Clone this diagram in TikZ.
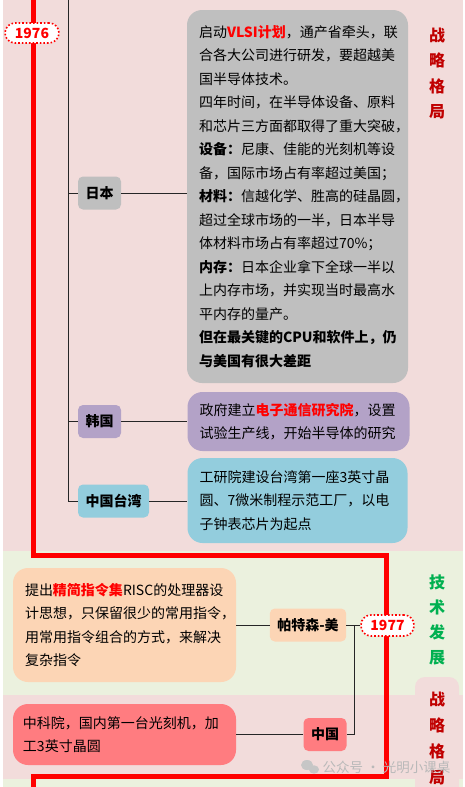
\documentclass[tikz,border=0pt]{standalone}
\usepackage{fontspec}
\setmainfont{Noto Sans CJK SC}
\definecolor{pinkbg}{HTML}{F2DCDB}
\definecolor{greenbg}{HTML}{EBF1DE}
\definecolor{graybox}{HTML}{BFBFBF}
\definecolor{purplebox}{HTML}{B3A2C7}
\definecolor{bluebox}{HTML}{93CDDD}
\definecolor{peachbox}{HTML}{FCD5B5}
\definecolor{salmonbox}{HTML}{FF7C80}
\definecolor{darkred}{HTML}{C00000}
\definecolor{techgreen}{HTML}{00B050}
\definecolor{hot}{HTML}{FF0000}
\newcommand{\hl}[1]{\textbf{\textcolor{hot}{#1}}}
\tikzset{
  redline/.style={draw=hot, line width=5pt},
  treeline/.style={draw=black!85, line width=1pt},
  yearbox/.style={draw=hot, dotted, line width=1.6pt, fill=white, rounded corners=10pt,
    minimum width=53pt, minimum height=21pt, inner sep=0pt,
    font=\fontsize{14pt}{16pt}\selectfont\bfseries, text=hot},
  country/.style={rounded corners=5pt, inner xsep=7.5pt, inner ysep=0pt, minimum height=33pt,
    font=\fontsize{14pt}{16pt}\selectfont\bfseries},
  textbox/.style={rounded corners=15pt, align=left, inner xsep=12pt, inner ysep=0pt,
    font=\fontsize{14pt}{23.5pt}\selectfont},
  sidelabel/.style={align=center, inner sep=0pt, font=\fontsize{16pt}{25.5pt}\selectfont\bfseries}
}
\begin{document}
\begin{tikzpicture}[x=1pt,y=-1pt]
\useasboundingbox (0,0) rectangle (465,787);
% backgrounds
\fill[white] (0,0) rectangle (465,787);
\fill[pinkbg] (3,0) rectangle (463,551);
\fill[greenbg] (3,551) rectangle (463,695);
\fill[pinkbg] (3,695) rectangle (463,779);
\fill[greenbg] (3,779) rectangle (463,787);
\fill[pinkbg, rounded corners=10pt] (415,677) rectangle (459,810);

% main red timeline
\draw[redline] (33,-5) -- (33,555) -- (386,555) -- (386,776) -- (33,776) -- (33,795);

% year labels
\node[yearbox, minimum width=54pt, minimum height=20pt] (y76) at (32,33) {1976};
\node[yearbox] (y77) at (387.5,625.5) {1977};

% side labels
\node[sidelabel, text=darkred] (lab1) at (437,73.5) {战\\略\\格\\局};
\node[sidelabel, text=techgreen, font=\fontsize{16pt}{25pt}\selectfont\bfseries] (lab2) at (437,619.5) {技\\术\\发\\展};
\node[sidelabel, text=darkred, font=\fontsize{16pt}{26pt}\selectfont\bfseries] (lab3) at (437,738) {战\\略\\格\\局};

% 1976 branch
\coordinate (t0) at (68,0);
\node[country, fill=graybox] (jp) at (99.5,193) {日本};
\node[country, fill=purplebox] (kr) at (99.5,421.5) {韩国};
\node[country, fill=bluebox] (tw) at (113.5,501) {中国台湾};

\node[textbox, fill=graybox, text width=197pt, minimum height=373pt] (jpt) at (297.5,196.5) {%
启动\hl{VLSI计划}，通产省牵头，联\\
合各大公司进行研发，要超越美\\
国半导体技术。\\
四年时间，在半导体设备、原料\\
和芯片三方面都取得了重大突破，\\
\textbf{设备：}尼康、佳能的光刻机等设\\
备，国际市场占有率超过美国；\\
\textbf{材料：}信越化学、胜高的硅晶圆，\\
超过全球市场的一半，日本半导\\
体材料市场占有率超过70\%；\\
\textbf{内存：}日本企业拿下全球一半以\\
上内存市场，并实现当时最高水\\
平内存的量产。\\
\textbf{但在最关键的CPU和软件上，仍}\\
\textbf{与美国有很大差距}};

\node[textbox, fill=purplebox, text width=198pt, minimum height=59pt] (krt) at (298.5,421.5) {%
政府建立\hl{电子通信研究院}，设置\\
试验生产线，开始半导体的研究};

\node[textbox, fill=bluebox, text width=196pt, minimum height=85pt] (twt) at (297.5,500.5) {%
工研院建设台湾第一座3英寸晶\\
圆、7微米制程示范工厂，以电\\
子钟表芯片为起点};

\draw[treeline] (t0) |- (jp.west);
\draw[treeline] (t0) |- (kr.west);
\draw[treeline] (t0) |- (tw.west);
\draw[treeline] (jp.east) -- (jp.east -| jpt.west);
\draw[treeline] (kr.east) -- (kr.east -| krt.west);
\draw[treeline] (tw.east) -- (tw.east -| twt.west);

% 1977 branch
\node[country, fill=peachbox] (pat) at (308,625) {帕特森-美};
\node[country, fill=salmonbox] (cn) at (325,734.5) {中国};

\node[textbox, fill=peachbox, text width=199pt, minimum height=114pt] (patt) at (124.5,625) {%
提出\hl{精简指令集}RISC的处理器设\\
计思想，只保留很少的常用指令，\\
用常用指令组合的方式，来解决\\
复杂指令};

\node[textbox, fill=salmonbox, inner xsep=10pt, text width=203pt, minimum height=61pt] (cnt) at (124.5,734.5) {%
中科院，国内第一台光刻机，加\\
工3英寸晶圆};

\coordinate (b77) at (354,625.5);
\draw[treeline] (y77.west) -- (b77);
\draw[treeline] (b77) |- (pat.east);
\draw[treeline] (b77) |- (cn.east);
\draw[treeline] (pat.west) -- (pat.west -| patt.east);
\draw[treeline] (cn.west) -- (cn.west -| cnt.east);

% watermark
\fill[gray!45] (307,765) ellipse (6pt and 5pt);
\fill[gray!45] (314,769.5) ellipse (5pt and 4.2pt);
\node[text=gray!55, inner sep=0pt, font=\fontsize{13.5pt}{15pt}\selectfont] (wm) at (386.5,767) {公众号 · 光明小课桌};
\end{tikzpicture}
\end{document}
